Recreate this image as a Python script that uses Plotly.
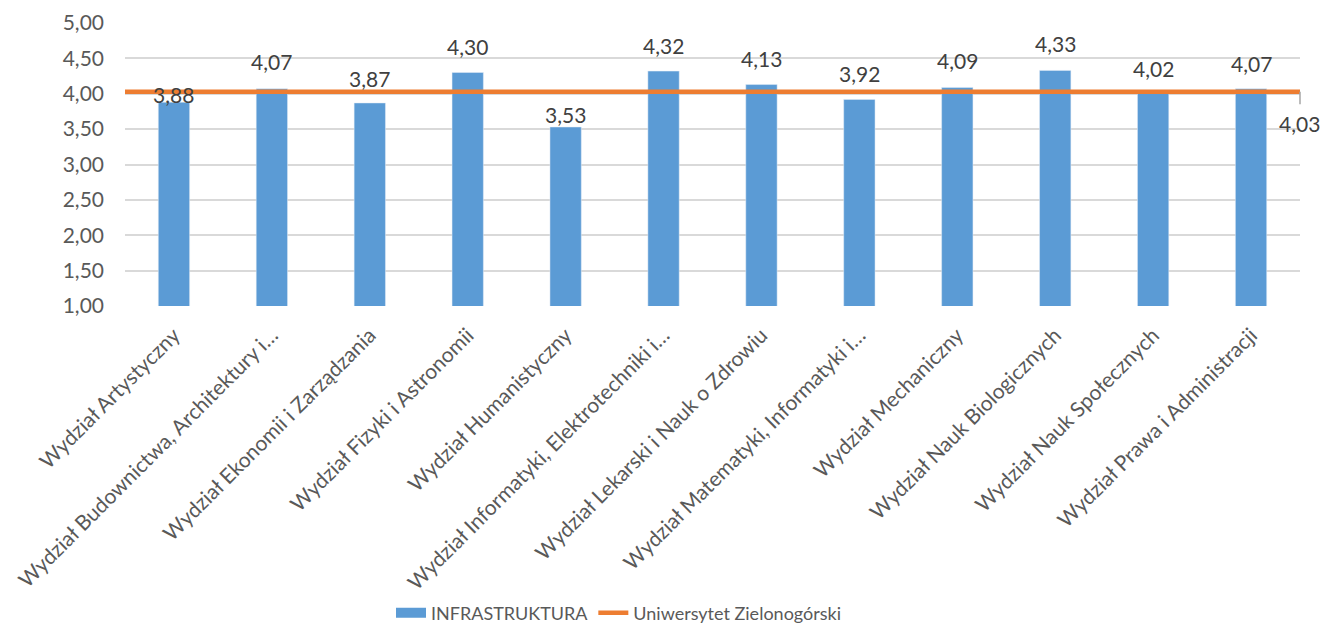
import plotly.graph_objects as go

categories = [
    "Wydział Artystyczny",
    "Wydział Budownictwa, Architektury i…",
    "Wydział Ekonomii i Zarządzania",
    "Wydział Fizyki i Astronomii",
    "Wydział Humanistyczny",
    "Wydział Informatyki, Elektrotechniki i…",
    "Wydział Lekarski i Nauk o Zdrowiu",
    "Wydział Matematyki, Informatyki i…",
    "Wydział Mechaniczny",
    "Wydział Nauk Biologicznych",
    "Wydział Nauk Społecznych",
    "Wydział Prawa i Administracji",
]
infrastruktura = [3.88, 4.07, 3.87, 4.30, 3.53, 4.32, 4.13, 3.92, 4.09, 4.33, 4.02, 4.07]
uniwersytet = 4.03
y_ticks = [1.0, 1.5, 2.0, 2.5, 3.0, 3.5, 4.0, 4.5, 5.0]

# label offsets above bar tops (pixels), styling only
label_shift = [8, 27, 24, 26, 13, 26, 26, 26, 27, 27, 24, 25]

FONT = "Lato"
BLUE = "#5b9bd5"
fig = go.Figure()
fig.add_trace(go.Bar(
    x=categories, y=infrastruktura, name="INFRASTRUKTURA",
    marker=dict(color=BLUE), showlegend=False,
))
# legend entry for bars (wide rectangle like the original)
fig.add_trace(go.Scatter(
    x=[None], y=[None], mode="lines", name="INFRASTRUKTURA",
    line=dict(color=BLUE, width=10),
))
fig.add_trace(go.Scatter(
    x=[0, 1], y=[uniwersytet, uniwersytet], xaxis="x2",
    mode="lines", name="Uniwersytet Zielonogórski",
    line=dict(color="#ed7d31", width=4.5),
))
for c, v, s in zip(categories, infrastruktura, label_shift):
    fig.add_annotation(
        x=c, y=v, xref="x", yref="y", text=f"{v:.2f}".replace(".", ","),
        showarrow=False, xanchor="center", yanchor="middle", yshift=s,
        font=dict(size=21, color="#404040", family=FONT),
    )
fig.add_annotation(
    x=1, y=uniwersytet, xref="x2", yref="y",
    text=f"{uniwersytet:.2f}".replace(".", ","), showarrow=False,
    xanchor="center", yanchor="middle", xshift=-1, yshift=-32,
    font=dict(size=21, color="#404040", family=FONT),
)
fig.add_shape(type="line", xref="paper", yref="y", x0=1, x1=1,
              y0=uniwersytet, y1=uniwersytet - 0.18,
              line=dict(color="#a6a6a6", width=1.5))

fig.update_layout(
    width=1321, height=630,
    margin=dict(l=125, r=21, t=23, b=324, autoexpand=False),
    paper_bgcolor="white", plot_bgcolor="white",
    separators=", ",
    bargap=0.68,
    font=dict(family=FONT, color="#595959", size=18),
    xaxis=dict(tickangle=-45, tickfont=dict(size=21, color="#595959"),
               showgrid=False, showline=False, ticks="", automargin=False,
               ticklabelstandoff=12),
    xaxis2=dict(overlaying="x", range=[0, 1], visible=False, fixedrange=True),
    yaxis=dict(range=[1, 5], tickvals=y_ticks, tickformat=".2f",
               gridcolor="#d9d9d9", gridwidth=1.5, zeroline=False,
               tickfont=dict(size=21, color="#595959"), ticks="", ticklen=0,
               ticklabelstandoff=20,
               showline=False, automargin=False),
    legend=dict(orientation="h", x=0.42, xanchor="center", y=-1.085, yanchor="middle",
                font=dict(size=18, color="#595959"), itemwidth=30,
                traceorder="normal"),
    showlegend=True,
)
fig.write_html("out.html", post_script="document.body.style.margin='0';",
               config={"displayModeBar": False})
